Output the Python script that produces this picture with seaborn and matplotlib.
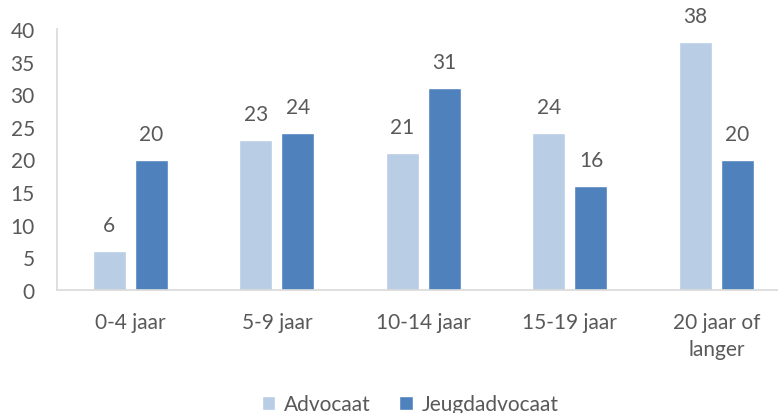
import numpy as np
import pandas as pd
import matplotlib
matplotlib.use("Agg")
import matplotlib.pyplot as plt
import seaborn as sns

# data
categories = ["0-4 jaar", "5-9 jaar", "10-14 jaar", "15-19 jaar", "20 jaar of\nlanger"]
advocaat = [6, 23, 21, 24, 38]
jeugdadvocaat = [20, 24, 31, 16, 20]
series_names = ["Advocaat", "Jeugdadvocaat"]
colors = ["#B9CDE5", "#4F81BD"]

df = pd.DataFrame({
    "cat": categories * 2,
    "value": advocaat + jeugdadvocaat,
    "serie": [series_names[0]] * 5 + [series_names[1]] * 5,
})

sns.set_style("white")
plt.rcParams["font.family"] = ["Lato", "DejaVu Sans"]
text_col = "#595959"
fs = 15

fig = plt.figure(figsize=(7.78, 4.14), dpi=100)
ax = fig.add_axes([57 / 778, 1 - 291 / 414, 1 - 57 / 778, 261 / 414])

sns.barplot(data=df, x="cat", y="value", hue="serie", palette=colors,
            width=0.574, gap=0.216, saturation=1, ax=ax, legend=True)

for cont in ax.containers:
    ax.bar_label(cont, padding=11.5, fontsize=fs, color=text_col)

ax.set_ylim(0, 40)
ax.set_yticks(np.arange(0, 41, 5))
ax.set_xlim(-0.5, (778 - 130.5) / 146.5)
ax.set_xlabel("")
ax.set_ylabel("")
ax.tick_params(axis="both", length=0, labelsize=fs, colors=text_col)
ax.tick_params(axis="x", pad=16)
ax.tick_params(axis="y", pad=16)
for lbl in ax.get_xticklabels():
    lbl.set_linespacing(1.45)

for s in ["top", "right"]:
    ax.spines[s].set_visible(False)
for s in ["left", "bottom"]:
    ax.spines[s].set_color("#D9D9D9")
    ax.spines[s].set_linewidth(1.2)

handles, labels = ax.get_legend_handles_labels()
ax.get_legend().remove()
fig.legend(handles, labels, loc="center", bbox_to_anchor=(410 / 778, 9 / 414),
           ncol=2, frameon=False, fontsize=fs, labelcolor=text_col,
           handlelength=0.65, handleheight=0.65, handletextpad=0.4,
           columnspacing=1.4)

fig.savefig("out.png", dpi=100)
